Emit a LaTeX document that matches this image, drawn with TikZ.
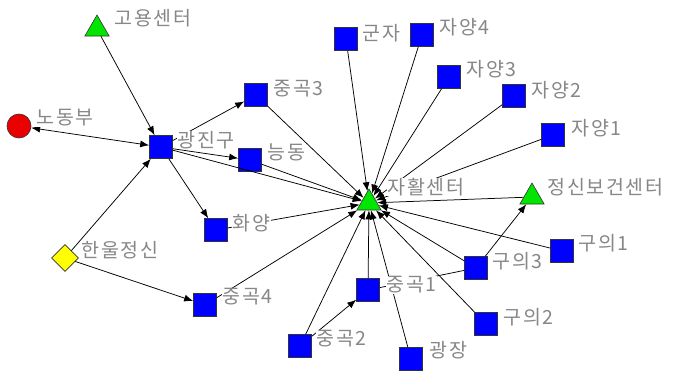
\documentclass[tikz,border=0pt]{standalone}
\usepackage{fontspec}
\usepackage{tikz}
\usetikzlibrary{arrows.meta,positioning,shapes.geometric}
\newfontfamily\kofont[LetterSpace=8]{Noto Sans CJK KR}
\definecolor{nodeblue}{RGB}{0,0,255}
\definecolor{nodegreen}{RGB}{0,230,0}
\definecolor{nodered}{RGB}{235,0,0}
\definecolor{nodeyellow}{RGB}{255,255,0}
\definecolor{tagtext}{RGB}{135,135,135}

\begin{document}
\begin{tikzpicture}[
  x=1pt, y=-1pt,
  org/.style={draw=black!80, rectangle, minimum size=23pt, inner sep=0pt,
              fill=nodeblue, line width=0.6pt},
  center/.style={draw=black!80, regular polygon, regular polygon sides=3,
                 minimum size=28pt, inner sep=0pt, fill=nodegreen, line width=0.6pt},
  gov/.style={draw=black!80, circle, minimum size=24pt, inner sep=0pt,
              fill=nodered, line width=0.6pt},
  clinic/.style={draw=black!80, diamond, minimum width=27pt, minimum height=27pt,
                 inner sep=0pt, fill=nodeyellow, line width=0.6pt},
  tag/.style={anchor=west, fill=white, inner sep=0.5pt, text=tagtext,
              font=\kofont\fontsize{19.5}{19.5}\selectfont},
  tie/.style={line width=0.75pt, black},
  >={Latex[length=9pt,width=7pt]}
]
  \useasboundingbox (0,0) rectangle (682,372);

  % actors
  \node[center] (goyong)    at (97,29)   {};
  \node[gov]    (nodong)    at (19,126)  {};
  \node[org]    (gwangjin)  at (161,147) {};
  \node[org]    (junggok3)  at (256,95)  {};
  \node[org]    (neungdong) at (250,160) {};
  \node[org]    (hwayang)   at (216,230) {};
  \node[clinic] (hanul)     at (65,258)  {};
  \node[org]    (junggok4)  at (205,305) {};
  \node[org]    (junggok2)  at (300,346) {};
  \node[org]    (junggok1)  at (368,290) {};
  \node[org]    (gwangjang) at (411,359) {};
  \node[org]    (guui3)     at (476,268) {};
  \node[org]    (guui2)     at (486,324) {};
  \node[org]    (guui1)     at (562,251) {};
  \node[center] (jeongsin)  at (532,197) {};
  \node[center] (jahwal)    at (369,203) {};
  \node[org]    (gunja)     at (346,39)  {};
  \node[org]    (jayang4)   at (422,35)  {};
  \node[org]    (jayang3)   at (449,77)  {};
  \node[org]    (jayang2)   at (514,96)  {};
  \node[org]    (jayang1)   at (553,135) {};

  % ties
  \draw[tie,->] (goyong) -- (gwangjin);
  \draw[tie,<->] (nodong) -- (gwangjin);
  \draw[tie,->] (hanul) -- (gwangjin);
  \draw[tie,->] (gwangjin) -- (junggok3);
  \draw[tie,->] (gwangjin) -- (neungdong);
  \draw[tie,->] (gwangjin) -- (hwayang);
  \draw[tie,->] (hanul) -- (junggok4);
  \draw[tie,->] (junggok2) -- (junggok1);
  \draw[tie,->] (guui3) -- (jeongsin);
  \draw[tie] (guui3) -- (junggok1);
  \foreach \src in {gwangjin,neungdong,junggok3,hwayang,junggok4,junggok2,
                    junggok1,gwangjang,guui3,guui2,guui1,jeongsin,
                    gunja,jayang4,jayang3,jayang2,jayang1}
    \draw[tie,->] (\src) -- (jahwal);

  % names
  \node[tag] (goyong-t)    at (114,18)  {고용센터};
  \node[tag] (nodong-t)    at (36,118)  {노동부};
  \node[tag] (gwangjin-t)  at (177,140) {광진구};
  \node[tag] (junggok3-t)  at (273,89)  {중곡3};
  \node[tag] (neungdong-t) at (267,152) {능동};
  \node[tag] (hwayang-t)   at (232,223) {화양};
  \node[tag] (hanul-t)     at (81,250)  {한울정신};
  \node[tag] (junggok4-t)  at (222,297) {중곡4};
  \node[tag] (junggok2-t)  at (316,339) {중곡2};
  \node[tag] (junggok1-t)  at (386,285) {중곡1};
  \node[tag] (gwangjang-t) at (429,350) {광장};
  \node[tag] (guui3-t)     at (492,261) {구의3};
  \node[tag] (guui2-t)     at (503,317) {구의2};
  \node[tag] (guui1-t)     at (578,243) {구의1};
  \node[tag] (jeongsin-t)  at (547,187) {정신보건센터};
  \node[tag] (jahwal-t)    at (387,187) {자활센터};
  \node[tag] (gunja-t)     at (362,33)  {군자};
  \node[tag] (jayang4-t)   at (439,27)  {자양4};
  \node[tag] (jayang3-t)   at (466,69)  {자양3};
  \node[tag] (jayang2-t)   at (531,90)  {자양2};
  \node[tag] (jayang1-t)   at (571,128) {자양1};
\end{tikzpicture}
\end{document}
